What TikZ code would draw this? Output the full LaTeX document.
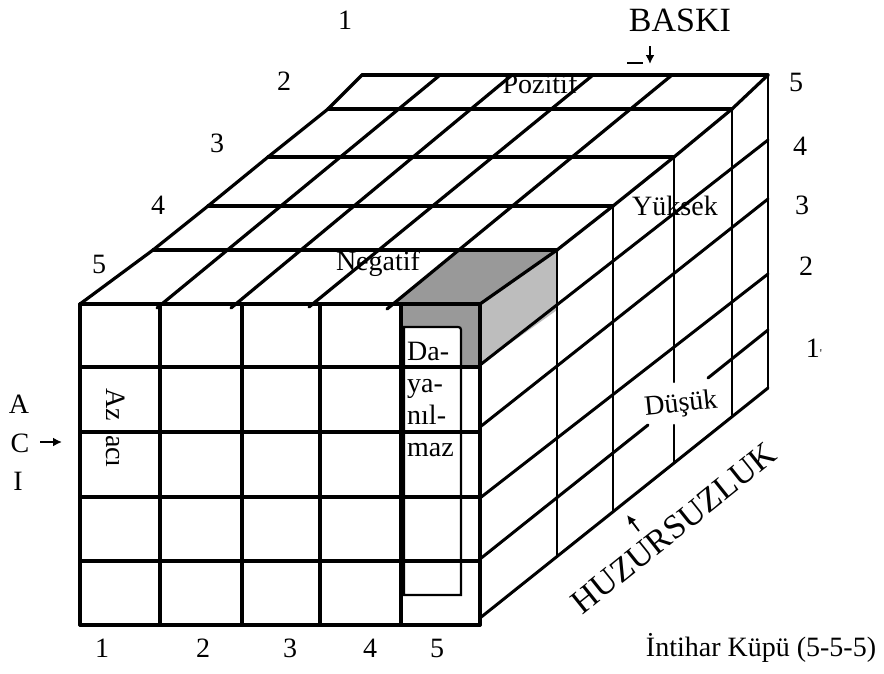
\documentclass[tikz,border=0pt]{standalone}
\usepackage{fontspec}
\setmainfont{Liberation Serif}
\usetikzlibrary{arrows.meta}
\begin{document}
\begin{tikzpicture}[x=1pt,y=-1pt,
  edge/.style={line width=3.2pt, line cap=round, line join=round},
  side/.style={line width=3pt, line cap=round, line join=round},
  sidev/.style={line width=2.4pt, line cap=round},
  boxline/.style={line width=2.2pt, line join=miter},
  lbl/.style={font=\fontsize{28}{30}\selectfont, inner sep=0pt},
  big/.style={font=\fontsize{34}{36}\selectfont, inner sep=0pt},
  arr/.style={-{Latex[length=9pt,width=9pt]}, line width=1.8pt},
  topshade/.style={fill=black!40},
  sideshade/.style={fill=black!26},
]
\useasboundingbox (0,0) rectangle (884,673);

% ---- shaded corner cube ----
\fill[topshade] (392,304) -- (480,304) -- (557,250) -- (458,250) -- cycle;
\fill[sideshade] (480,304) -- (557,250) -- (557,310) -- (480,365) -- cycle;
\fill[topshade] (401,304) rectangle (480,367);
\fill[white] (404,367) -- (404,327) -- (455,327) .. controls (461,327) .. (461,333) -- (461,367) -- cycle;

% ---- front face ----
\foreach \x in {80,160,242,320,401,480} \draw[edge] (\x,304) -- (\x,625);
\foreach \y in {304,367,432,497,561,625} \draw[edge] (80,\y) -- (480,\y);

% ---- box in column 5 ----
\draw[boxline] (404,595) -- (404,327) -- (455,327) .. controls (461,327) .. (461,333) -- (461,595) -- cycle;

% ---- top face ----
\draw[edge] (80,304) -- (153,250) -- (208,206) -- (268,157) -- (328,109) -- (362,75);
\draw[edge] (480,304) -- (557,250) -- (613,206) -- (674,157) -- (732,109) -- (768,75);
\draw[edge] (157,308) -- (440,75);
\draw[edge] (231,308) -- (512,75);
\draw[edge] (309,307) -- (593,75);
\draw[edge] (387,309) -- (672,75);
\draw[edge] (153,250) -- (557,250);
\draw[edge] (208,206) -- (613,206);
\draw[edge] (268,157) -- (674,157);
\draw[edge] (328,109) -- (732,109);
\draw[edge] (362,75) -- (768,75);

% ---- right face ----
\draw[side] (480,365) -- (768,140);
\draw[side] (480,427) -- (768,199);
\draw[side] (480,498) -- (768,274);
\draw[side] (480,559) -- (648,425);
\draw[side] (708,378) -- (768,330);
\draw[side] (480,618) -- (768,388);
\draw[sidev] (557,250) -- (557,556);
\draw[sidev] (613,206) -- (613,512);
\draw[sidev] (674,157) -- (674,382);
\draw[sidev] (674,425) -- (674,463);
\draw[sidev] (732,109) -- (732,417);
\draw[sidev] (768,75) -- (768,388);

% ---- labels ----
\node[lbl] (t1) at (345,20) {1};
\node[lbl] (t2) at (284,81) {2};
\node[lbl] (t3) at (217,143) {3};
\node[lbl] (t4) at (158,205) {4};
\node[lbl] (t5) at (99,264) {5};

\node[big] (baski) at (680,20) {BASKI};
\coordinate (bs) at (650,46);
\coordinate (be) at (650,64);
\draw[arr] (bs) -- (be);
\coordinate (us) at (627,63);
\coordinate (ue) at (643,63);
\draw[line width=1.5pt] (us) -- (ue);

\node[lbl] (r5) at (796,82) {5};
\node[lbl] (r4) at (800,146) {4};
\node[lbl] (r3) at (802,205) {3};
\node[lbl] (r2) at (806,266) {2};
\node[lbl] (r1) at (814,348) {1{\fontsize{12}{12}\selectfont\textquotesingle}};

\node[lbl] (neg) at (378,264) {Negatif};
\node[lbl] (poz) at (540,84) {Pozitif};
\node[lbl] (yuk) at (675,206) {Yüksek};
\node[lbl, rotate=6] (dus) at (681,405) {Düşük};

\node[lbl, anchor=base west] (d1) at (407,360) {Da-};
\node[lbl, anchor=base west] (d2) at (407,392) {ya-};
\node[lbl, anchor=base west] (d3) at (407,424) {nıl-};
\node[lbl, anchor=base west] (d4) at (407,456) {maz};

\node[lbl, rotate=-90] (az) at (116,428) {Az\hspace{14pt}acı};

\node[lbl] (ca) at (19,404) {A};
\node[lbl] (cc) at (20,443) {C};
\node[lbl] (ci) at (18,481) {I};
\coordinate (as) at (40,442);
\coordinate (ae) at (62,442);
\draw[arr] (as) -- (ae);

\node[big, rotate=38.6] (huz) at (674,528) {HUZURSUZLUK};
\coordinate (hs) at (639,531);
\coordinate (he) at (627,515);
\draw[arr] (hs) -- (he);

\node[lbl] (b1) at (102,648) {1};
\node[lbl] (b2) at (203,648) {2};
\node[lbl] (b3) at (290,648) {3};
\node[lbl] (b4) at (370,648) {4};
\node[lbl] (b5) at (437,648) {5};

\node[lbl] (cap) at (761,648) {İntihar Küpü (5-5-5)};
\end{tikzpicture}
\end{document}
